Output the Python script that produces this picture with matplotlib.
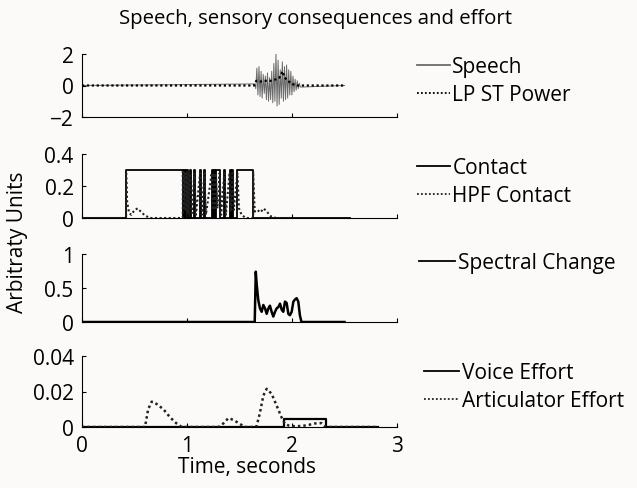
import numpy as np
import matplotlib
matplotlib.use("Agg")
import matplotlib.pyplot as plt

plt.rcParams['font.family'] = ['Open Sans', 'DejaVu Sans']

# ---- data ----
# speech waveform (samples between 1.645 s and 2.08 s)
speech_v = [0.1, -0.2, 1.1, -0.6, 1.2, -0.7, 0.9, -0.8, 0.7, -0.5, 0.6, -0.9,
            0.8, -1.0, 0.5, -0.9, 0.9, -1.1, 1.4, -1.0, 2.0, -1.3, 1.6, -1.2,
            1.0, -0.8, 1.5, -1.0, 1.2, -0.9, 1.3, -0.8, 1.0, -0.6, 0.9, -0.6,
            0.6, -0.4, 0.4, -0.3, 0.3, -0.2, 0.15, -0.1]
speech_t = np.linspace(1.645, 2.08, len(speech_v))

lpst_t = [0, 1.64, 1.66, 1.7, 1.75, 1.8, 1.85, 1.88, 1.91, 1.93, 1.96, 2.0, 2.05, 2.5]
lpst_v = [0, 0, 0.3, 0.25, 0.3, 0.3, 0.4, 0.5, 0.9, 0.5, 0.3, 0.1, 0, 0]

contact_t = [0, 0.42, 0.96, 0.975, 0.985, 0.995, 1.005, 1.025, 1.04, 1.07, 1.08,
             1.125, 1.135, 1.165, 1.175, 1.235, 1.245, 1.255, 1.265, 1.275, 1.31,
             1.355, 1.365, 1.405, 1.415, 1.43, 1.44, 1.48, 1.63, 2.55]
contact_v = [0, 0.3, 0, 0.3, 0, 0.3, 0, 0.3, 0, 0.3, 0, 0.3, 0, 0.3, 0, 0.3, 0,
             0.3, 0, 0.3, 0, 0.3, 0, 0.3, 0, 0.3, 0, 0.3, 0, 0]

hpf_t = [0, 0.42, 0.42, 0.43, 0.45, 0.47, 0.50, 0.53, 0.56, 0.60, 0.65, 0.96,
         0.96, 0.975, 0.975, 0.99, 0.995, 1.01, 1.025, 1.045, 1.07, 1.085, 1.125,
         1.14, 1.165, 1.18, 1.235, 1.25, 1.255, 1.27, 1.275, 1.29, 1.31, 1.325,
         1.355, 1.37, 1.405, 1.42, 1.43, 1.445, 1.48, 1.495, 1.52, 1.56, 1.63,
         1.63, 1.645, 1.67, 1.70, 1.73, 1.76, 1.80, 1.85, 2.0]
hpf_v = [0, 0, 0.29, 0.10, 0.03, 0.02, 0.05, 0.06, 0.04, 0.015, 0, 0,
         0.29, 0.05, 0.29, 0.04, 0.28, 0.03, 0.28, 0.03, 0.28, 0.02, 0.28,
         0.02, 0.28, 0.02, 0.28, 0.05, 0.28, 0.05, 0.28, 0.06, 0.28, 0.02,
         0.28, 0.02, 0.28, 0.04, 0.28, 0.05, 0.28, 0.06, 0.02, 0, 0,
         0.29, 0.04, 0.05, 0.035, 0.06, 0.04, 0.01, 0, 0]

spec_t = [0, 1.645, 1.655, 1.664, 1.679, 1.695, 1.711, 1.727, 1.743, 1.759,
          1.775, 1.79, 1.806, 1.822, 1.838, 1.854, 1.87, 1.886, 1.902, 1.917,
          1.933, 1.949, 1.965, 1.98, 1.997, 2.013, 2.028, 2.044, 2.06, 2.075,
          2.09, 2.5]
spec_v = [0, 0, 0.74, 0.55, 0.32, 0.2, 0.15, 0.25, 0.2, 0.12,
          0.2, 0.24, 0.15, 0.08, 0.15, 0.2, 0.22, 0.27, 0.18, 0.15,
          0.3, 0.28, 0.12, 0.1, 0.15, 0.3, 0.33, 0.35, 0.3, 0.1,
          0, 0]

voice_t = [0, 1.92, 1.92, 2.32, 2.32, 2.82]
voice_v = [0, 0, 0.0045, 0.0045, 0, 0]

art_t = [0, 0.6, 0.63, 0.664, 0.71, 0.775, 0.838, 0.9, 0.95, 1.30,
         1.346, 1.394, 1.441, 1.505, 1.55, 1.66, 1.695, 1.727, 1.759, 1.806,
         1.854, 1.9, 1.933, 1.97, 2.03, 2.1, 2.16, 2.22, 2.28, 2.32, 2.82]
art_v = [0, 0, 0.01, 0.0143, 0.013, 0.010, 0.0055, 0.002, 0, 0,
         0.002, 0.005, 0.004, 0.0017, 0, 0, 0.008, 0.0177, 0.0215, 0.0187,
         0.012, 0.0055, 0.0017, 0.0008, 0.0004, 0.0006, 0.0012, 0.002, 0.0022, 0, 0]

ylims = [(-2, 2), (0, 0.4), (0, 1), (0, 0.04)]
yticks = [[-2, 0, 2], [0, 0.2, 0.4], [0, 0.5, 1], [0, 0.02, 0.04]]
yticklabels = [["\u22122", "0", "2"], ["0", "0.2", "0.4"], ["0", "0.5", "1"],
               ["0", "0.02", "0.04"]]

# ---- layout (pixel positions from the reference) ----
W, H = 637, 489
bg = "#fcfaf8"
fig = plt.figure(figsize=(W / 100, H / 100), dpi=100, facecolor=bg)

panels = [(55, 118), (155, 219), (255, 323), (357, 428)]
left, right = 82, 397
axes = []
for top, bot in panels:
    ax = fig.add_axes([left / W, 1 - bot / H, (right - left) / W, (bot - top) / H])
    ax.set_facecolor(bg)
    axes.append(ax)

fs = 15
dotted = (0, (1, 1.2))

ax = axes[0]
ax.plot(np.r_[0, speech_t, 2.5], np.r_[0, speech_v, 0], color="#6a6a6a", lw=0.7,
        label="Speech")
ax.plot(lpst_t, lpst_v, color="black", lw=1.6, ls=dotted, label="LP ST Power")

ax = axes[1]
ax.plot(contact_t, contact_v, color="black", lw=1.3, drawstyle="steps-post",
        label="Contact")
ax.plot(hpf_t, hpf_v, color="#222222", lw=1.5, ls=dotted, label="HPF Contact")

ax = axes[2]
ax.plot(spec_t, spec_v, color="black", lw=1.8, label="Spectral Change")

ax = axes[3]
ax.plot(voice_t, voice_v, color="black", lw=1.6, label="Voice Effort")
ax.plot(art_t, art_v, color="#222222", lw=1.8, ls=dotted, label="Articulator Effort")

legend_tops = [57, 158, 253, 363]
legend_lefts = [417, 417, 419, 424]
legend_hlen = [1.6, 1.6, 1.75, 1.7]
for i, ax in enumerate(axes):
    ax.set_xlim(0, 3)
    ax.set_ylim(*ylims[i])
    ax.set_yticks(yticks[i])
    ax.set_yticklabels(yticklabels[i])
    ax.set_xticks([0, 1, 2, 3])
    if i < 3:
        ax.set_xticklabels([])
    else:
        ax.set_xticklabels(["0", "1", "2", "3"])
    for s in ["top", "right"]:
        ax.spines[s].set_visible(False)
    for s in ["left", "bottom"]:
        ax.spines[s].set_linewidth(0.8)
    ax.tick_params(direction="in", length=3, width=0.8, labelsize=fs, pad=6)
    leg = ax.legend(loc="upper left",
                    bbox_to_anchor=(legend_lefts[i] / W, 1 - legend_tops[i] / H),
                    bbox_transform=fig.transFigure, frameon=False, fontsize=fs,
                    handlelength=legend_hlen[i], handletextpad=0.1,
                    labelspacing=0.35, borderaxespad=0, borderpad=0)
    for line in leg.get_lines():
        line.set_linewidth(1.3)

fig.text(316 / W, 1 - 19 / H, "Speech, sensory consequences and effort",
         ha="center", va="center", fontsize=14.7)
fig.text(18 / W, 1 - 242 / H, "Arbitraty Units", rotation=90, ha="center",
         va="center", fontsize=fs)
fig.text(247 / W, 1 - 468 / H, "Time, seconds", ha="center", va="center",
         fontsize=15)

fig.savefig("out.png", dpi=100, facecolor=bg)
